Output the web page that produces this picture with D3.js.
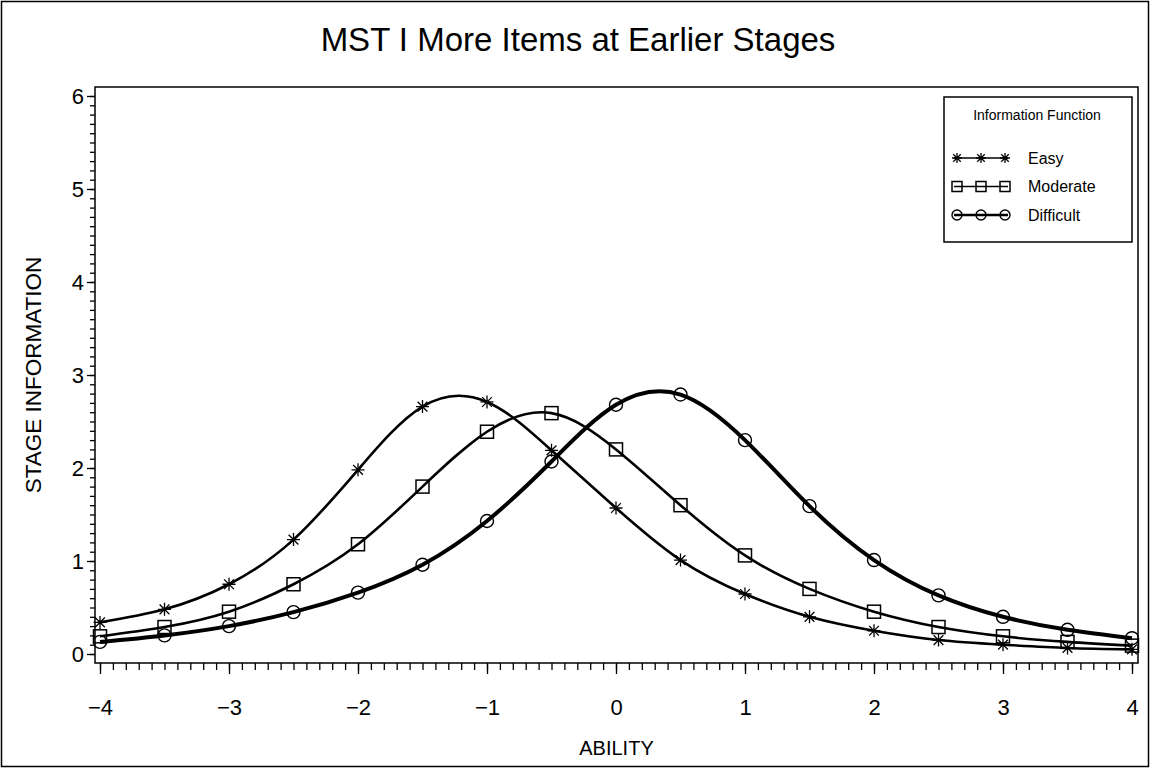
<!DOCTYPE html>
<html><head><meta charset="utf-8">
<script src="https://cdn.jsdelivr.net/npm/d3@7"></script>
<style>
html,body{margin:0;padding:0;background:#fff;}
svg{display:block;font-family:"Liberation Sans",Arial,sans-serif;}
</style></head>
<body>
<svg id="chart" width="1153" height="769"></svg>
<script>
// ---- data ----
const abilities = [-4,-3.5,-3,-2.5,-2,-1.5,-1,-0.5,0,0.5,1,1.5,2,2.5,3,3.5,4];
const easyInfo = [0.34,0.48,0.75,1.23,1.98,2.66,2.71,2.19,1.57,1.01,0.645,0.40,0.25,0.15,0.10,0.065,0.05];
const moderateInfo = [0.19,0.29,0.455,0.75,1.18,1.80,2.39,2.59,2.20,1.60,1.06,0.70,0.455,0.29,0.19,0.13,0.09];
const difficultInfo = [0.13,0.20,0.30,0.45,0.66,0.96,1.43,2.07,2.68,2.79,2.30,1.59,1.01,0.63,0.40,0.26,0.17];
const seriesNames = ["Easy","Moderate","Difficult"];
const xTickValues = [-4,-3,-2,-1,0,1,2,3,4];
const yTickValues = [0,1,2,3,4,5,6];
const titleText = "MST I More Items at Earlier Stages";
const xLabel = "ABILITY";
const yLabel = "STAGE INFORMATION";
const legendTitle = "Information Function";

const series = [
  {name: seriesNames[0], values: easyInfo, marker: "star", width: 2.6},
  {name: seriesNames[1], values: moderateInfo, marker: "square", width: 2.6},
  {name: seriesNames[2], values: difficultInfo, marker: "circle", width: 4}
];

const svg = d3.select("#chart");
const x = d3.scaleLinear().domain([-4,4]).range([100,1132]);
const y = d3.scaleLinear().domain([0,6]).range([654,96]);
const frame = {x0: 95, x1: 1138, y0: 87, y1: 663};

// outer border
svg.append("rect").attr("x",1.5).attr("y",1.5).attr("width",1147).attr("height",765)
  .attr("fill","none").attr("stroke","#000").attr("stroke-width",1.5);

// title
svg.append("text").attr("x",578).attr("y",51).attr("text-anchor","middle")
  .attr("font-size",33).text(titleText);

// frame
svg.append("rect").attr("x",frame.x0).attr("y",frame.y0)
  .attr("width",frame.x1-frame.x0).attr("height",frame.y1-frame.y0)
  .attr("fill","none").attr("stroke","#000").attr("stroke-width",1.5);

// x axis
const xMinor = d3.range(-40,41).map(d=>d/10);
const xAxisMinor = d3.axisBottom(x).tickValues(xMinor).tickSize(7).tickFormat("");
const xAxisMajor = d3.axisBottom(x).tickValues(xTickValues).tickSize(11)
  .tickFormat(d => d < 0 ? "\u2212" + Math.abs(d) : String(d));
const gxm = svg.append("g").attr("transform",`translate(0,${frame.y1})`).call(xAxisMinor);
const gx = svg.append("g").attr("transform",`translate(0,${frame.y1})`).call(xAxisMajor);
[gxm,gx].forEach(g=>{g.select(".domain").remove(); g.selectAll("line").attr("stroke","#000").attr("stroke-width",1.3);});
gx.selectAll("text").attr("font-size",22).attr("font-family","Liberation Sans, Arial, sans-serif")
  .attr("fill","#000").attr("y",0).attr("dy",null).attr("transform","translate(0,52)");

// y axis
const yMinor = d3.range(0,61).map(d=>d/10);
const yAxisMinor = d3.axisLeft(y).tickValues(yMinor).tickSize(5).tickFormat("");
const yAxisMajor = d3.axisLeft(y).tickValues(yTickValues).tickSize(8).tickFormat(d3.format("d"));
const gym = svg.append("g").attr("transform",`translate(${frame.x0},0)`).call(yAxisMinor);
const gy = svg.append("g").attr("transform",`translate(${frame.x0},0)`).call(yAxisMajor);
[gym,gy].forEach(g=>{g.select(".domain").remove(); g.selectAll("line").attr("stroke","#000").attr("stroke-width",1.3);});
gy.selectAll("text").attr("font-size",22).attr("font-family","Liberation Sans, Arial, sans-serif")
  .attr("fill","#000").attr("x",-11).attr("dy","0.36em");

// axis labels
svg.append("text").attr("x",(frame.x0+frame.x1)/2).attr("y",755).attr("text-anchor","middle")
  .attr("font-size",20).text(xLabel);
svg.append("text").attr("transform",`translate(41,${(frame.y0+frame.y1)/2}) rotate(-90)`)
  .attr("text-anchor","middle").attr("font-size",22.5).text(yLabel);

// markers
function drawMarker(g, type, cx, cy, s) {
  if (type === "star") {
    const h = s;
    g.append("path").attr("d",
      `M${cx-h},${cy}L${cx+h},${cy}M${cx},${cy-h}L${cx},${cy+h}` +
      `M${cx-h*0.75},${cy-h*0.75}L${cx+h*0.75},${cy+h*0.75}M${cx-h*0.75},${cy+h*0.75}L${cx+h*0.75},${cy-h*0.75}`)
      .attr("stroke","#000").attr("stroke-width",1.3).attr("fill","none");
  } else if (type === "square") {
    g.append("rect").attr("x",cx-s).attr("y",cy-s).attr("width",2*s).attr("height",2*s)
      .attr("fill","none").attr("stroke","#000").attr("stroke-width",1.5);
  } else {
    g.append("circle").attr("cx",cx).attr("cy",cy).attr("r",s)
      .attr("fill","none").attr("stroke","#000").attr("stroke-width",1.4);
  }
}

const line = d3.line().x((d,i)=>x(abilities[i])).y(d=>y(d)).curve(d3.curveNatural);
const plot = svg.append("g");
series.forEach(s=>{
  plot.append("path").attr("d",line(s.values)).attr("fill","none")
    .attr("stroke","#000").attr("stroke-width",s.width).attr("stroke-linejoin","round");
  const mg = plot.append("g");
  s.values.forEach((v,i)=>drawMarker(mg, s.marker, x(abilities[i]), y(v), 6.5));
});

// legend
const lg = svg.append("g");
lg.append("rect").attr("x",944).attr("y",97).attr("width",188).attr("height",145)
  .attr("fill","#fff").attr("stroke","#000").attr("stroke-width",1.5);
lg.append("text").attr("x",1037).attr("y",120).attr("text-anchor","middle")
  .attr("font-size",14).text(legendTitle);
const legendY = d3.scalePoint().domain(seriesNames).range([158,215]);
const legendSymX = d3.scalePoint().domain([0,1,2]).range([957,1005]);
series.forEach(s=>{
  const ly = legendY(s.name);
  lg.append("line").attr("x1",954).attr("x2",1008).attr("y1",ly).attr("y2",ly)
    .attr("stroke","#000").attr("stroke-width",s.width>3?2.5:1.5);
  [0,1,2].forEach(k=>drawMarker(lg, s.marker, legendSymX(k), ly, 5));
  lg.append("text").attr("x",1028).attr("y",ly).attr("dy","0.36em").attr("font-size",16).text(s.name);
});
</script>
</body></html>
